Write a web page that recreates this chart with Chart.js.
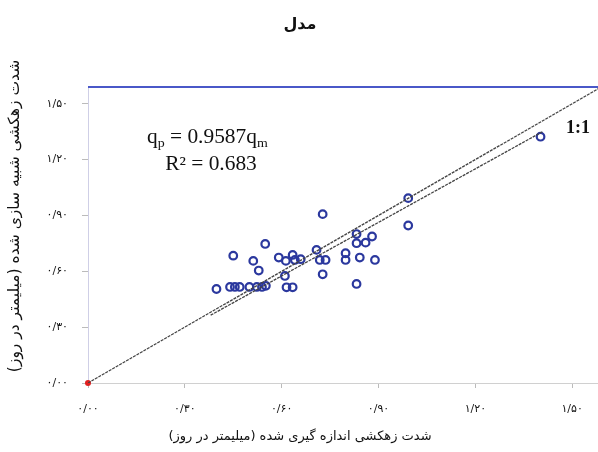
<!DOCTYPE html>
<html>
<head>
<meta charset="utf-8">
<script src="https://cdn.jsdelivr.net/npm/chart.js@4.4.1/dist/chart.umd.min.js"></script>
<style>
  html, body { margin: 0; padding: 0; background: #ffffff; }
  #wrap { width: 598px; height: 452px; }
</style>
</head>
<body>
<div id="wrap"><canvas id="chart" width="598" height="452"></canvas></div>
<script>
// data
const chartTitle = "مدل";
const xAxisTitle = "شدت زهکشی اندازه گیری شده (میلیمتر در روز)";
const yAxisTitle = "شدت زهکشی شبیه سازی شده (میلیمتر در روز)";
const tickValues = [0, 0.3, 0.6, 0.9, 1.2, 1.5];
const tickLabels = ["۰/۰۰", "۰/۳۰", "۰/۶۰", "۰/۹۰", "۱/۲۰", "۱/۵۰"];

const measured = [0.398, 0.45, 0.44, 0.455, 0.47, 0.512, 0.529, 0.549, 0.50, 0.523,
  0.539, 0.551, 0.591, 0.61, 0.615, 0.634, 0.613, 0.634, 0.641, 0.659,
  0.727, 0.708, 0.718, 0.736, 0.727, 0.798, 0.798, 0.832, 0.832, 0.86,
  0.88, 0.842, 0.889, 0.832, 0.992, 0.992, 1.402];
const simulated = [0.505, 0.684, 0.516, 0.516, 0.516, 0.656, 0.604, 0.747, 0.516, 0.516,
  0.516, 0.522, 0.674, 0.575, 0.514, 0.514, 0.656, 0.688, 0.661, 0.665,
  0.907, 0.715, 0.661, 0.661, 0.584, 0.697, 0.661, 0.80, 0.751, 0.754,
  0.787, 0.674, 0.661, 0.532, 0.993, 0.846, 1.323];

const slope = 0.9587;
const rSquared = 0.683;
const fitFrom = 0.38;
const fitTo = 1.41;
const lineOneToOne = [0, 1.6];

const points = measured.map((x, i) => ({ x: x, y: simulated[i] }));
const fitLine = [fitFrom, fitTo].map((x) => ({ x: x, y: slope * x }));
const identity = lineOneToOne.map((v) => ({ x: v, y: v }));

const PERSIAN = "'DejaVu Sans', sans-serif";
const SERIF = "'Liberation Serif', 'DejaVu Serif', serif";

const textPlugin = {
  id: "texts",
  afterDraw(chart) {
    const ctx = chart.ctx;
    const a = chart.chartArea;
    ctx.save();
    // blue top border
    ctx.strokeStyle = "#4a58c8";
    ctx.lineWidth = 2;
    ctx.beginPath();
    ctx.moveTo(a.left, a.top);
    ctx.lineTo(chart.width, a.top);
    ctx.stroke();

    ctx.fillStyle = "#111";
    ctx.direction = "rtl";
    ctx.textAlign = "center";
    ctx.textBaseline = "middle";
    ctx.font = "bold 16px " + PERSIAN;
    ctx.fillText(chartTitle, 300, 25);

    ctx.font = "13px " + PERSIAN;
    ctx.fillText(xAxisTitle, 300, 437);

    ctx.save();
    ctx.translate(15, 216);
    ctx.rotate(-Math.PI / 2);
    ctx.font = "15.5px " + PERSIAN;
    ctx.fillText(yAxisTitle, 0, 0);
    ctx.restore();

    // equation, slightly stretched like the original
    ctx.direction = "ltr";
    ctx.textAlign = "left";
    ctx.textBaseline = "alphabetic";
    ctx.save();
    ctx.translate(147, 0);
    ctx.scale(1.07, 1);
    let x = 0;
    const big = "20px " + SERIF;
    const small = "13px " + SERIF;
    const parts = [["q", big, 0], ["p", small, 4], [" = " + slope + "q", big, 0], ["m", small, 4]];
    parts.forEach(([t, f, dy]) => {
      ctx.font = f;
      ctx.fillText(t, x, 143 + dy);
      x += ctx.measureText(t).width;
    });
    ctx.font = big;
    ctx.fillText("R² = " + rSquared, 17, 170);
    ctx.restore();

    ctx.font = "bold 18px " + SERIF;
    ctx.fillText("1:1", 566, 133);
    ctx.restore();
  },
};

new Chart(document.getElementById("chart"), {
  type: "scatter",
  data: {
    datasets: [
      {
        type: "line",
        data: identity,
        borderColor: "#444",
        borderWidth: 1.3,
        borderDash: [3, 1],
        pointRadius: 0,
        fill: false,
      },
      {
        type: "line",
        data: fitLine,
        borderColor: "#444",
        borderWidth: 1.3,
        borderDash: [3, 1],
        pointRadius: 0,
        fill: false,
      },
      {
        data: points,
        pointStyle: "circle",
        pointRadius: 3.8,
        borderWidth: 2.2,
        borderColor: "#2b389e",
        backgroundColor: "rgba(255,255,255,0)",
      },
      {
        data: [{ x: 0, y: 0 }],
        pointRadius: 3,
        borderWidth: 0,
        backgroundColor: "#e02020",
        clip: false,
      },
    ],
  },
  options: {
    responsive: false,
    animation: false,
    devicePixelRatio: 1,
    layout: { autoPadding: false, padding: { top: 87, right: 0, bottom: 0, left: 0 } },
    plugins: { legend: { display: false }, tooltip: { enabled: false } },
    scales: {
      x: {
        type: "linear",
        min: 0,
        max: 1.58,
        afterFit: (s) => { s.height = 69; s.paddingLeft = 0; s.paddingRight = 0; },
        afterBuildTicks: (s) => { s.ticks = tickValues.map((v) => ({ value: v })); },
        ticks: {
          callback: (v, i) => tickLabels[i],
          font: { family: PERSIAN, size: 11 },
          color: "#111",
          padding: 15,
          maxRotation: 0,
        },
        grid: { drawOnChartArea: false, drawTicks: true, tickLength: 5, color: "#bbb" },
        border: { color: "#d0d0d0", width: 1 },
      },
      y: {
        type: "linear",
        min: 0,
        max: 1.59,
        afterFit: (s) => { s.width = 88; s.paddingTop = 0; s.paddingBottom = 0; },
        afterBuildTicks: (s) => { s.ticks = tickValues.map((v) => ({ value: v })); },
        ticks: {
          callback: (v, i) => tickLabels[i],
          font: { family: PERSIAN, size: 11 },
          color: "#111",
          padding: 14,
        },
        grid: { drawOnChartArea: false, drawTicks: true, tickLength: 6, color: "#bbb" },
        border: { color: "#cfcfe6", width: 1 },
      },
    },
  },
  plugins: [textPlugin],
});
</script>
</body>
</html>
